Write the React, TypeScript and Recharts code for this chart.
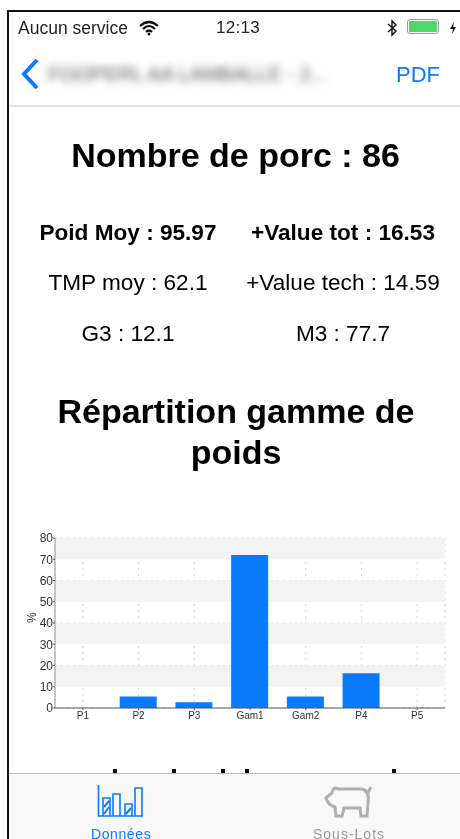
import React from 'react';
import { BarChart, Bar, XAxis, YAxis, CartesianGrid, ReferenceArea, Label } from 'recharts';

const categories = ['P1', 'P2', 'P3', 'Gam1', 'Gam2', 'P4', 'P5'];
const percents = [0, 5.4, 2.7, 72, 5.4, 16.3, 0];
const yTicks = [0, 10, 20, 30, 40, 50, 60, 70, 80];
const stripes = [[10, 20], [30, 40], [50, 60], [70, 80]];
const statsLeft = ['Poid Moy : 95.97', 'TMP moy : 62.1', 'G3 : 12.1'];
const statsRight = ['+Value tot : 16.53', '+Value tech : 14.59', 'M3 : 77.7'];
const statsTop = [233, 283, 334];
// tops of the next heading, cut by the tab bar
const cutLetters = [115, 174, 223, 247, 394];

const chartData = categories.map((name, i) => ({ name, percent: percents[i] }));

const FONT = '"Liberation Sans", Arial, sans-serif';
const BLUE = '#0a7aff';

const centered = (cx: number, y: number, size: number, bold = false): React.CSSProperties => ({
  position: 'absolute',
  left: cx - 200,
  width: 400,
  top: y - size * 0.6,
  textAlign: 'center',
  fontSize: size,
  lineHeight: `${size * 1.2}px`,
  fontWeight: bold ? 700 : 400,
  color: '#000',
  whiteSpace: 'nowrap',
});

const App: React.FC = () => {
  return (
    <div style={{ position: 'absolute', left: 0, top: 0, width: 460, height: 839, overflow: 'hidden', background: '#fff', fontFamily: FONT, filter: 'blur(0.45px)' }}>
      {/* frame */}
      <div style={{ position: 'absolute', left: 7, top: 10, width: 453, height: 2, background: '#111' }} />
      <div style={{ position: 'absolute', left: 7, top: 10, width: 2, height: 829, background: '#111' }} />

      {/* status bar */}
      <div style={{ position: 'absolute', left: 18, top: 18, fontSize: 17.5, color: '#222' }}>Aucun service</div>
      <svg style={{ position: 'absolute', left: 139, top: 20 }} width="20" height="16" viewBox="0 0 20 16">
        <path d="M1 6 Q10 -2 19 6 M4 9 Q10 3 16 9 M7 12 Q10 9 13 12" fill="none" stroke="#111" strokeWidth="2.2" />
        <circle cx="10" cy="14" r="1.5" fill="#111" />
      </svg>
      <div style={{ position: 'absolute', left: 216, top: 18, fontSize: 17, color: '#222', letterSpacing: 0.3 }}>12:13</div>
      <svg style={{ position: 'absolute', left: 386, top: 19 }} width="12" height="18" viewBox="0 0 12 18">
        <path d="M2 5 L10 12 L6 16 L6 2 L10 6 L2 13" fill="none" stroke="#111" strokeWidth="1.4" />
      </svg>
      <div style={{ position: 'absolute', left: 407, top: 19, width: 32, height: 15, border: '1px solid #999', borderRadius: 3, boxSizing: 'border-box', padding: 1 }}>
        <div style={{ width: '100%', height: '100%', background: '#4cd964', borderRadius: 1 }} />
      </div>
      <svg style={{ position: 'absolute', left: 449, top: 22 }} width="8" height="12" viewBox="0 0 8 12">
        <path d="M5 0 L1 7 L4 7 L3 12 L7 5 L4 5 Z" fill="#111" />
      </svg>

      {/* nav bar */}
      <svg style={{ position: 'absolute', left: 20, top: 58 }} width="20" height="32" viewBox="0 0 20 32">
        <path d="M17 2 L4 16 L17 30" fill="none" stroke={BLUE} strokeWidth="4" />
      </svg>
      <div style={{ position: 'absolute', left: 48, top: 63, fontSize: 20, color: '#555', filter: 'blur(4px)', whiteSpace: 'nowrap' }}>FOOPERL AA LAMBALLE - 2...</div>
      <div style={{ position: 'absolute', left: 396, top: 62, fontSize: 22, color: BLUE }}>PDF</div>
      <div style={{ position: 'absolute', left: 9, top: 105, width: 451, height: 2, background: '#e2e2e2' }} />

      {/* headline numbers */}
      <div style={centered(235.5, 155, 34, true)}>Nombre de porc : 86</div>
      {statsLeft.map((text, i) => (
        <div key={text} style={centered(128, statsTop[i], 22.6, i === 0)}>{text}</div>
      ))}
      {statsRight.map((text, i) => (
        <div key={text} style={centered(343, statsTop[i], 22.6, i === 0)}>{text}</div>
      ))}

      <div style={centered(236, 411, 34, true)}>Répartition gamme de</div>
      <div style={centered(236, 452, 34, true)}>poids</div>

      {/* chart */}
      <div style={{ position: 'absolute', left: 0, top: 525 }}>
        <BarChart width={460} height={210} data={chartData} margin={{ top: 13, right: 15, left: 0, bottom: 0 }} barSize={37}>
          {stripes.map(([y1, y2]) => (
            <ReferenceArea key={y1} y1={y1} y2={y2} fill="#f3f3f3" fillOpacity={1} stroke="none" ifOverflow="visible" />
          ))}
          <CartesianGrid stroke="#d6d6d6" strokeDasharray="2 4" />
          <XAxis
            dataKey="name"
            height={27}
            axisLine={{ stroke: '#555', strokeWidth: 1 }}
            tickLine={{ stroke: '#555' }}
            tickSize={2}
            tick={{ fill: '#333', fontSize: 10 }}
            interval={0}
          />
          <YAxis
            width={55}
            domain={[0, 80]}
            ticks={yTicks}
            allowDataOverflow
            axisLine={{ stroke: '#a08c8c' }}
            tickLine={{ stroke: '#555' }}
            tickSize={2}
            tickMargin={0}
            tick={{ fill: '#333', fontSize: 12 }}
          >
            <Label value="%" angle={-90} position="insideLeft" offset={32} style={{ fill: '#333', fontSize: 12 }} />
          </YAxis>
          <Bar dataKey="percent" fill={BLUE} isAnimationActive={false} />
        </BarChart>
      </div>

      {cutLetters.map(x => (
        <div key={x} style={{ position: 'absolute', left: x - 2, top: 769, width: 4, height: 4, background: '#000' }} />
      ))}

      {/* tab bar */}
      <div style={{ position: 'absolute', left: 9, top: 773, width: 451, height: 66, background: '#f8f8f8', borderTop: '1px solid #bbb', boxSizing: 'border-box' }} />
      <svg style={{ position: 'absolute', left: 96, top: 783 }} width="48" height="36" viewBox="0 0 48 36">
        <path d="M2.5 2 V33 H47 M7 33 V15 H14 V33 M17 33 V11 H24 V33 M29 33 V21 H36 V33 M39 33 V5 H46 V33" fill="none" stroke={BLUE} strokeWidth="1.6" />
        <path d="M8 24 L13 18 M8 31 L13 24 M30 31 L35 25" fill="none" stroke={BLUE} strokeWidth="2" />
      </svg>
      <svg style={{ position: 'absolute', left: 324, top: 783 }} width="50" height="36" viewBox="0 0 50 36">
        <path d="M2 15 L8 10 Q9 3 14 6 H38 Q46 8 44 20 L43 33 H37 L36 25 H20 L18 33 H12 L11 24 Q4 22 2 15 Z M44 10 L47 4" fill="none" stroke="#b0b0b0" strokeWidth="3" />
      </svg>
      <div style={{ position: 'absolute', left: 91, top: 827, height: 14, fontSize: 14, lineHeight: '14px', color: BLUE, letterSpacing: 0.6 }}>Données</div>
      <div style={{ position: 'absolute', left: 313, top: 827, height: 14, fontSize: 14, lineHeight: '14px', color: '#999', letterSpacing: 1 }}>Sous-Lots</div>
    </div>
  );
};

export default App;
